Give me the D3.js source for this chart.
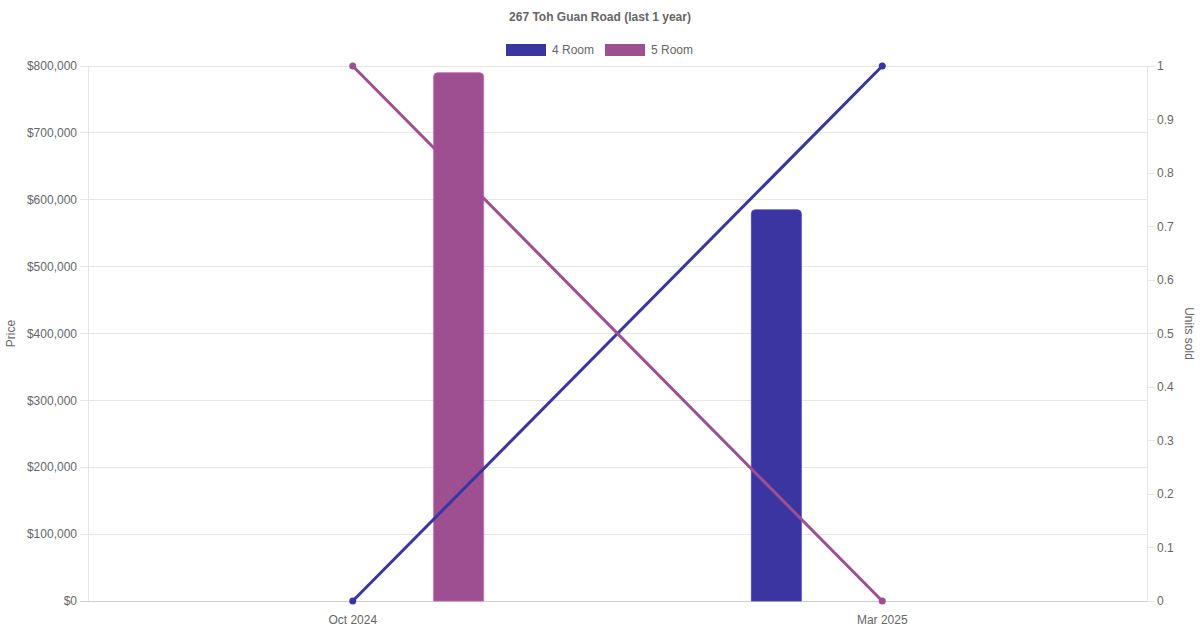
<!DOCTYPE html>
<html><head><meta charset="utf-8">
<script src="https://cdn.jsdelivr.net/npm/d3@7"></script>
<style>
html,body{margin:0;padding:0;background:#fff;}
text{font-family:"Liberation Sans",Arial,Helvetica,sans-serif;}
</style></head>
<body><svg id="chart" width="1200" height="630"></svg>
<script>
const title = "267 Toh Guan Road (last 1 year)";
const categories = ["Oct 2024", "Mar 2025"];
const seriesNames = ["4 Room", "5 Room"];
const seriesColors = ["#3a35a0", "#9e4f91"];
const priceValues = [[null, 585000], [790000, null]]; // per series
const unitsValues = [[0, 1], [1, 0]]; // per series
const priceTicks = [0,100000,200000,300000,400000,500000,600000,700000,800000];
const unitTicks = [0,0.1,0.2,0.3,0.4,0.5,0.6,0.7,0.8,0.9,1];

const svg = d3.select("#chart");
const pLeft = 88, pRight = 1147, pTop = 66, pBottom = 601;

const x = d3.scaleBand().domain(categories).range([pLeft, pRight]).paddingInner(0).paddingOuter(0);
const xs = d3.scaleBand().domain(seriesNames).range([0, x.bandwidth()]).paddingInner(0).paddingOuter(0.25);
const yL = d3.scaleLinear().domain([0, 800000]).range([pBottom, pTop]);
const yR = d3.scaleLinear().domain([0, 1]).range([pBottom, pTop]);

// gridlines
const g = svg.append("g");
g.selectAll("line.grid").data(priceTicks).join("line")
  .attr("x1", pLeft - 8).attr("x2", pRight).attr("y1", d => yL(d)).attr("y2", d => yL(d))
  .attr("stroke", d => d === 0 ? "#cfcfcf" : "#e6e6e6").attr("stroke-width", 1)
  .attr("shape-rendering", "crispEdges");
g.append("line").attr("x1", pLeft).attr("x2", pLeft).attr("y1", pTop).attr("y2", pBottom)
  .attr("stroke", "#e6e6e6").attr("shape-rendering", "crispEdges");
g.append("line").attr("x1", pRight).attr("x2", pRight).attr("y1", pTop).attr("y2", pBottom)
  .attr("stroke", "#e6e6e6").attr("shape-rendering", "crispEdges");
g.selectAll("line.rt").data(unitTicks).join("line")
  .attr("x1", pRight).attr("x2", pRight + 8).attr("y1", d => yR(d)).attr("y2", d => yR(d))
  .attr("stroke", "#e6e6e6").attr("shape-rendering", "crispEdges");

// axis labels
const fmt = d => "$" + d3.format(",")(d);
svg.selectAll("text.yl").data(priceTicks).join("text")
  .attr("x", pLeft - 11).attr("y", d => yL(d)).attr("dy", "0.35em")
  .attr("text-anchor", "end").attr("font-size", 12).attr("fill", "#666").text(fmt);
svg.selectAll("text.yr").data(unitTicks).join("text")
  .attr("x", pRight + 10).attr("y", d => yR(d)).attr("dy", "0.35em")
  .attr("text-anchor", "start").attr("font-size", 12).attr("fill", "#666").text(d => d3.format("")(d));
svg.selectAll("text.xl").data(categories).join("text")
  .attr("x", d => x(d) + x.bandwidth() / 2).attr("y", 624)
  .attr("text-anchor", "middle").attr("font-size", 12).attr("fill", "#666").text(d => d);

// axis titles
svg.append("text").attr("transform", `translate(15,${(pTop + pBottom) / 2}) rotate(-90)`)
  .attr("text-anchor", "middle").attr("font-size", 12).attr("fill", "#666").text("Price");
svg.append("text").attr("transform", `translate(1185,${(pTop + pBottom) / 2}) rotate(90)`)
  .attr("text-anchor", "middle").attr("font-size", 12).attr("fill", "#666").text("Units sold");

// title
svg.append("text").attr("x", 600).attr("y", 21).attr("text-anchor", "middle")
  .attr("font-size", 12).attr("font-weight", "bold").attr("fill", "#666").text(title);

// legend
const legendX = [506, 605];
seriesNames.forEach((s, i) => {
  svg.append("rect").attr("x", legendX[i]).attr("y", 44).attr("width", 40).attr("height", 12)
    .attr("fill", seriesColors[i]);
  svg.append("text").attr("x", legendX[i] + 46).attr("y", 50).attr("dy", "0.35em")
    .attr("font-size", 12).attr("fill", "#666").text(s);
});

// bars
const barW = 50, rad = 4;
function topRounded(x0, y0, w, h, r) {
  return `M${x0},${y0 + h}V${y0 + r}Q${x0},${y0} ${x0 + r},${y0}H${x0 + w - r}Q${x0 + w},${y0} ${x0 + w},${y0 + r}V${y0 + h}Z`;
}
seriesNames.forEach((s, i) => {
  categories.forEach((c, j) => {
    const v = priceValues[i][j];
    if (v == null) return;
    const cx = x(c) + xs(s) + xs.bandwidth() / 2;
    const y0 = yL(v);
    svg.append("path").attr("d", topRounded(cx - barW / 2, y0, barW, pBottom - y0, rad))
      .attr("fill", seriesColors[i]).attr("stroke", d3.color(seriesColors[i]).brighter(0.6)).attr("stroke-width", 0.8);
  });
});

// lines
seriesNames.forEach((s, i) => {
  const pts = categories.map((c, j) => [x(c) + x.bandwidth() / 2, yR(unitsValues[i][j])]);
  svg.append("path").attr("d", d3.line()(pts)).attr("fill", "none")
    .attr("stroke", seriesColors[i]).attr("stroke-width", 3);
  svg.selectAll(null).data(pts).join("circle")
    .attr("cx", d => d[0]).attr("cy", d => d[1]).attr("r", 3.5).attr("fill", seriesColors[i]);
});
</script></body></html>
